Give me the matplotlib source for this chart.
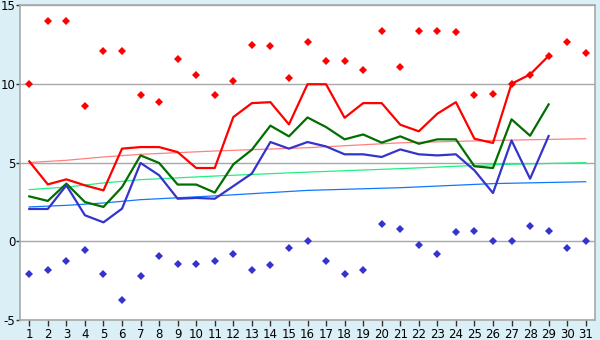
import numpy as np
import matplotlib
matplotlib.use('Agg')
import matplotlib.pyplot as plt

plt.rcParams['axes.unicode_minus'] = False

# day index
days = list(range(1, 32))
line_days = list(range(1, 30))

# upper / lower scatter (diamonds)
upper_pts = [10.0, 14.0, 14.0, 8.6, 12.1, 12.1, 9.3, 8.86, 11.58, 10.57,
             9.3, 10.19, 12.47, 12.4, 10.38, 12.66, 11.46, 11.46, 10.89, 13.36,
             11.08, 13.36, 13.36, 13.3, 9.3, 9.37, 10.0, 10.57, 11.77, 12.66, 11.96]
lower_pts = [-2.11, -1.8, -1.23, -0.53, -2.11, -3.7, -2.18, -0.91, -1.42, -1.42,
             -1.23, -0.78, -1.8, -1.48, -0.4, 0.0, -1.23, -2.11, -1.8, 1.12,
             0.8, -0.21, -0.78, 0.61, 0.68, 0.0, 0.0, 1.0, 0.68, -0.4, 0.0]

# main series
red_line = [5.07, 3.61, 3.93, 3.55, 3.23, 5.88, 5.98, 5.98, 5.66, 4.65,
            4.65, 7.88, 8.77, 8.83, 7.42, 9.97, 9.97, 7.84, 8.77, 8.77,
            7.4, 6.98, 8.1, 8.83, 6.51, 6.24, 10.0, 10.59, 11.77]
green_line = [2.85, 2.56, 3.66, 2.49, 2.18, 3.44, 5.45, 4.97, 3.6, 3.6,
              3.09, 4.88, 5.81, 7.34, 6.66, 7.86, 7.25, 6.47, 6.78, 6.26,
              6.66, 6.19, 6.47, 6.47, 4.76, 4.65, 7.74, 6.7, 8.69]
blue_line = [2.05, 2.05, 3.55, 1.65, 1.2, 2.07, 4.97, 4.19, 2.7, 2.75,
             2.7, 3.5, 4.3, 6.3, 5.88, 6.3, 6.02, 5.52, 5.52, 5.35,
             5.83, 5.52, 5.45, 5.52, 4.5, 3.06, 6.4, 3.97, 6.68]

# thin trend lines
trend_days = [1, 3, 5, 7, 11, 16, 21, 26, 31]
trend_red = [5.0, 5.14, 5.35, 5.52, 5.73, 5.94, 6.25, 6.4, 6.51]
trend_green = [3.28, 3.44, 3.7, 3.91, 4.14, 4.39, 4.61, 4.86, 4.99]
trend_blue = [2.18, 2.28, 2.43, 2.64, 2.88, 3.23, 3.4, 3.66, 3.78]

bg = '#daf0f6'
frame = '#a8a8a8'

fig = plt.figure(figsize=(6, 3.4), dpi=100, facecolor=bg)
ax = fig.add_axes([20 / 600, 20 / 340, 575 / 600, 315 / 340])
ax.set_facecolor('white')

ax.plot(trend_days, trend_red, color='#ff8080', lw=0.9)
ax.plot(trend_days, trend_green, color='#20f080', lw=0.9)
ax.plot(trend_days, trend_blue, color='#1078ff', lw=0.9)

ax.plot(line_days, red_line, color='#ff0000', lw=1.6)
ax.plot(line_days, green_line, color='#006e00', lw=1.6)
ax.plot(line_days, blue_line, color='#3434cc', lw=1.6)

ax.plot(days, upper_pts, 'D', color='#ff0000', ms=3.8, mew=0)
ax.plot(days, lower_pts, 'D', color='#3434cc', ms=3.8, mew=0)

ax.set_xlim(0.5, 31.5)
ax.set_ylim(-5, 15)
ax.set_xticks(days)
ax.set_yticks([-5, 0, 5, 10, 15])
ax.yaxis.grid(True, color=frame, lw=1)
ax.set_axisbelow(True)
for s in ax.spines.values():
    s.set_color(frame)
    s.set_linewidth(1.2)
ax.tick_params(axis='both', colors='#333333', labelcolor='black', labelsize=8.5,
               width=1)
ax.tick_params(axis='x', length=4, pad=2)
ax.tick_params(axis='y', length=3, pad=0.5)

fig.savefig('out.png', dpi=100, facecolor=bg)
